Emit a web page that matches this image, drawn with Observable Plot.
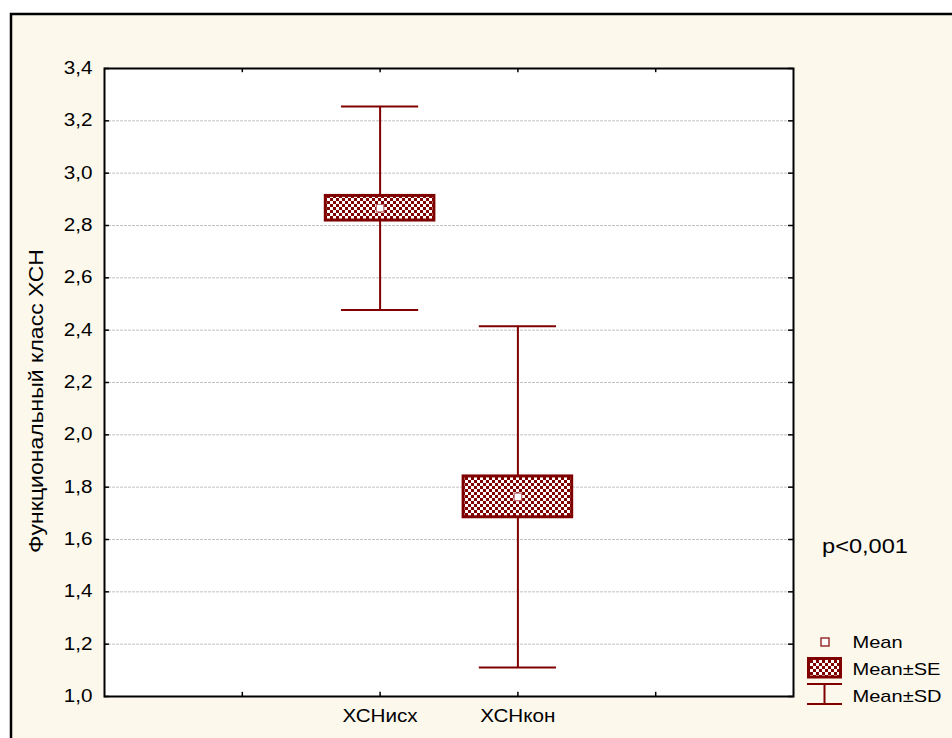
<!DOCTYPE html>
<html>
<head>
<meta charset="utf-8">
<script src="https://cdn.jsdelivr.net/npm/d3@7"></script>
<script src="https://cdn.jsdelivr.net/npm/@observablehq/plot@0.6"></script>
<style>
  body { margin: 0; background: white; }
  svg text { font-family: "Liberation Sans", Arial, sans-serif; }
</style>
</head>
<body>
<div id="chart"></div>
<script>
// Functional class of chronic heart failure, before and after treatment
const groups = ["ХСНисх", "ХСНкон"];
const positions = [2, 3];
const means = [2.866, 1.763];
const se = [0.047, 0.078];
const sd = [0.389, 0.652];

const yTicks = [1.0, 1.2, 1.4, 1.6, 1.8, 2.0, 2.2, 2.4, 2.6, 2.8, 3.0, 3.2, 3.4];
const xTicks = [1, 2, 3, 4];
const yTitle = "Функциональный класс ХСН";
const pText = "p<0,001";
const legendLabels = ["Mean", "Mean±SE", "Mean±SD"];

const data = groups.map((g, i) => ({
  group: g, pos: positions[i], mean: means[i], se: se[i], sd: sd[i]
}));

const red = "#800000";
const stretch = 1.18;    // glyphs in this chart are drawn a little wider than plain Arial
const boxHalf = 0.394;   // half-width of the SE box, in x units
const capHalf = 0.28;    // half-width of the SD caps
const yTickLen = 0.036;  // inward tick length along x
const xTickLen = 0.016;  // inward tick length along y
const fmt = d => d.toFixed(1).replace(".", ",");

const chart = Plot.plot({
  width: 952,
  height: 738,
  marginLeft: 104,
  marginRight: 159,
  marginTop: 68,
  marginBottom: 42,
  style: { fontFamily: "Liberation Sans, Arial, sans-serif", background: "transparent" },
  x: { domain: [0, 5] },
  y: { domain: [1, 3.4] },
  marks: [
    Plot.frame({ fill: "white", stroke: "none" }),
    Plot.gridY(yTicks.slice(1, -1), { stroke: "#c2c2c2", strokeOpacity: 1, strokeDasharray: "3,1" }),
    // inward ticks on all four sides
    Plot.ruleY(yTicks, { x1: 0, x2: yTickLen, stroke: "black", strokeWidth: 1.5 }),
    Plot.ruleY(yTicks, { x1: 5 - yTickLen, x2: 5, stroke: "black", strokeWidth: 1.5 }),
    Plot.ruleX(xTicks, { y1: 1, y2: 1 + xTickLen, stroke: "black", strokeWidth: 1.5 }),
    Plot.ruleX(xTicks, { y1: 3.4 - xTickLen, y2: 3.4, stroke: "black", strokeWidth: 1.5 }),
    Plot.axisY({ ticks: yTicks, tickSize: 0, tickPadding: 12, tickFormat: fmt, fontSize: 17.5, label: null }),
    Plot.axisX({ ticks: positions, tickSize: 0, tickPadding: 13, fontSize: 17.5, label: null,
      tickFormat: d => groups[positions.indexOf(d)] }),
    // Mean ± SD whiskers
    Plot.ruleX(data, { x: "pos", y1: d => d.mean - d.sd, y2: d => d.mean + d.sd, stroke: red, strokeWidth: 2 }),
    Plot.ruleY(data, { y: d => d.mean + d.sd, x1: d => d.pos - capHalf, x2: d => d.pos + capHalf, stroke: red, strokeWidth: 2 }),
    Plot.ruleY(data, { y: d => d.mean - d.sd, x1: d => d.pos - capHalf, x2: d => d.pos + capHalf, stroke: red, strokeWidth: 2 }),
    // Mean ± SE boxes (fill swapped for the checker pattern below)
    Plot.rect(data, { x1: d => d.pos - boxHalf, x2: d => d.pos + boxHalf,
      y1: d => d.mean - d.se, y2: d => d.mean + d.se, fill: "#800001", stroke: red, strokeWidth: 3 }),
    // Means
    Plot.dot(data, { x: "pos", y: "mean", symbol: "square", r: 4.2, fill: "white", stroke: "#c07070", strokeWidth: 1.2 }),
    Plot.frame({ stroke: "black", strokeWidth: 2 })
  ]
});

document.getElementById("chart").appendChild(chart);
const svg = d3.select(chart);

// checker pattern for the SE boxes
const defs = svg.insert("defs", ":first-child");
const pat = defs.append("pattern").attr("id", "chk").attr("patternUnits", "userSpaceOnUse")
  .attr("width", 6).attr("height", 6);
pat.append("rect").attr("width", 6).attr("height", 6).attr("fill", "white");
pat.append("rect").attr("width", 3).attr("height", 3).attr("fill", red);
pat.append("rect").attr("x", 3).attr("y", 3).attr("width", 3).attr("height", 3).attr("fill", red);
svg.selectAll('[fill="#800001"]').attr("fill", "url(#chk)");

// outer panel with cream background
svg.insert("rect", "defs + *")
  .attr("x", 11).attr("y", 14).attr("width", 960).attr("height", 740)
  .attr("fill", "#fcf8ec").attr("stroke", "black").attr("stroke-width", 2.5);

// widen glyphs of the library's axis labels
svg.selectAll("text").each(function () {
  const w = this.getComputedTextLength();
  if (w > 0) d3.select(this).attr("textLength", w * stretch).attr("lengthAdjust", "spacingAndGlyphs");
});

// texts drawn start-anchored, with their stretched length
function addText(parent, str, size) {
  const t = parent.append("text").attr("text-anchor", "start").attr("font-size", size)
    .attr("fill", "black").text(str);
  const w = t.node().getComputedTextLength();
  t.attr("textLength", w * stretch).attr("lengthAdjust", "spacingAndGlyphs");
  return { t, len: w * stretch };
}

// y-axis title, centred on the left margin
const title = addText(svg.append("g"), yTitle, 19.5);
title.t.attr("dy", "0.32em")
  .attr("transform", `translate(37,${401 + title.len / 2}) rotate(-90)`);

// significance note
addText(svg.append("g"), pText, 20).t.attr("x", 822).attr("y", 553);

// legend
const lg = svg.append("g");
lg.append("rect").attr("x", 821).attr("y", 638).attr("width", 8).attr("height", 8)
  .attr("fill", "white").attr("stroke", red).attr("stroke-width", 1.2);
lg.append("rect").attr("x", 808.5).attr("y", 658.5).attr("width", 32).attr("height", 18.5)
  .attr("fill", "url(#chk)").attr("stroke", red).attr("stroke-width", 3);
lg.append("path").attr("d", "M807,684H842M824.5,684V704M807,704H842")
  .attr("fill", "none").attr("stroke", red).attr("stroke-width", 2);
[648, 675, 702].forEach((y, i) => {
  addText(lg, legendLabels[i], 17).t.attr("x", 852.5).attr("y", y);
});
</script>
</body>
</html>
